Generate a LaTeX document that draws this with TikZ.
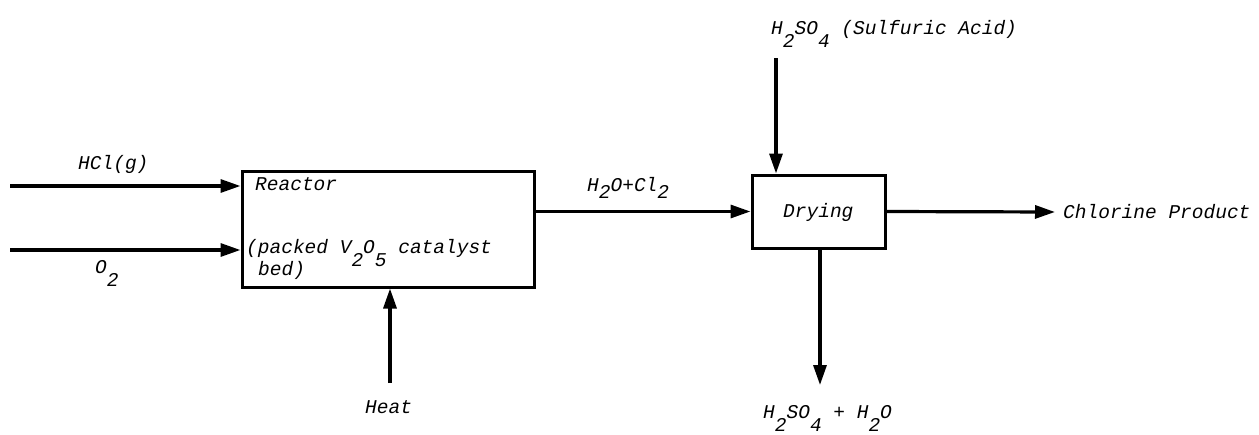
\documentclass[tikz,border=0pt]{standalone}
\usepackage{fontspec}
\setmainfont{Liberation Mono}
\usetikzlibrary{arrows.meta}
\newcommand\lo[1]{\raisebox{-0.7em}{#1}}
\newcommand\loo[1]{\raisebox{-0.4em}{#1}}
\begin{document}
\begin{tikzpicture}[x=1pt,y=-1pt,
  flow/.style={line width=3.2pt, -{Triangle[length=20pt,width=13pt]}},
  box/.style={draw, line width=3pt, inner sep=0pt},
  lbl/.style={font=\fontsize{19.5}{22}\selectfont\itshape, inner sep=0pt, anchor=base west}]
\useasboundingbox (0,0) rectangle (1259,434);
% boxes
\node[box, minimum width=292pt, minimum height=116pt] (reactor) at (388,229) {};
\node[box, minimum width=133pt, minimum height=73pt] (drying) at (818.5,211.5) {};
% free ends
\coordinate (hcl) at (10,186);
\coordinate (o2) at (10,250);
\coordinate (heat) at (390,383);
\coordinate (acid) at (776,58);
\coordinate (prod) at (1055,212);
\coordinate (waste) at (820,385);
% connectors
\draw[flow] (hcl) -- (hcl -| reactor.west);
\draw[flow] (o2) -- (o2 -| reactor.west);
\draw[flow] (heat) -- (heat |- reactor.south);
\draw[flow] (reactor.east |- drying.west) -- (drying.west);
\draw[flow] (acid) -- (acid |- drying.north);
\draw[flow] (drying.east) -- (prod);
\draw[flow] (waste |- drying.south) -- (waste);
% labels
\node[lbl] (lhcl) at (78,169) {HCl(g)};
\node[lbl] (lo2) at (95,273) {O\lo{2}};
\node[lbl] (lreac) at (255,190) {Reactor};
\node[lbl] (lpack) at (246,253) {(packed V\lo{2}O\lo{5} catalyst};
\node[lbl] (lbed) at (258,275) {bed)};
\node[lbl] (lheat) at (365,413) {Heat};
\node[lbl] (lmix) at (587,191) {H\loo{2}O+Cl\loo{2}};
\node[lbl] (ldry) at (783,217) {Drying};
\node[lbl] (lacid) at (771,34) {H\lo{2}SO\lo{4} (Sulfuric Acid)};
\node[lbl] (lprod) at (1063,218) {Chlorine Product};
\node[lbl] (lwaste) at (763,418) {H\lo{2}SO\lo{4} + H\lo{2}O};
\end{tikzpicture}
\end{document}
